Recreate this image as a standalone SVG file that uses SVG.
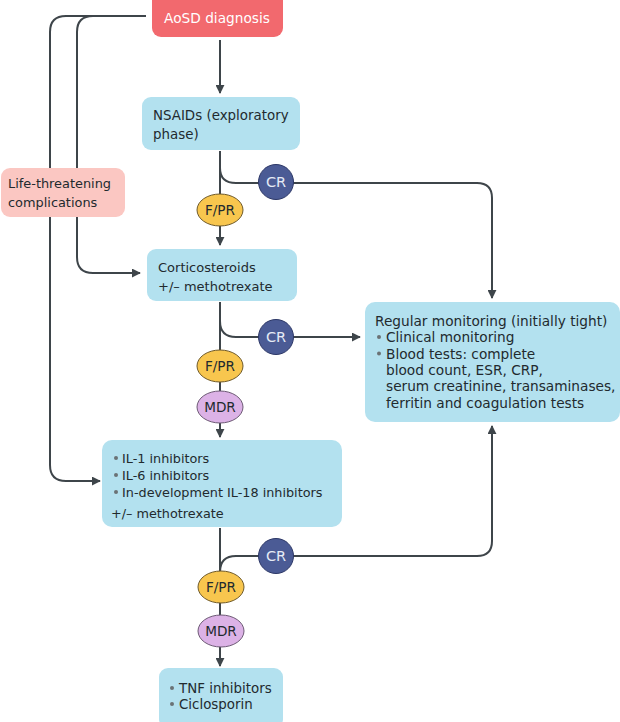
<svg xmlns="http://www.w3.org/2000/svg" width="620" height="722" viewBox="0 0 620 722">
<defs>
<marker id="ah" viewBox="0 0 10 10" refX="9" refY="5" markerWidth="9" markerHeight="9" markerUnits="userSpaceOnUse" orient="auto">
<path d="M0,0 L10,5 L0,10 z" fill="#3e454a"/>
</marker>
<style>
text{font-family:"DejaVu Sans","Noto Sans",sans-serif;fill:#222a2e}
.box{fill:#b3e1ef}
.t{font-size:13.4px}
.w{font-size:13.7px;fill:#ffffff;text-anchor:middle}
.m{font-size:13.7px}
.il{font-size:12.8px}
.ln{fill:none;stroke:#3e454a;stroke-width:2}
.cr{fill:#4b5b95;stroke:#2c3766;stroke-width:1}
.fpr{fill:#f8c64e;stroke:#6f5a2a;stroke-width:1}
.mdr{fill:#dcb2e6;stroke:#6d5a75;stroke-width:1}
.lab{font-size:13.6px;text-anchor:middle}
.crt{font-size:14.5px;fill:#e6ebf5;text-anchor:middle}
.dot{fill:#6b7275}
</style>
</defs>
<g id="connectors">
<path class="ln" d="M146,16 H66 Q50,16 50,32 V465 Q50,481 66,481 H100" marker-end="url(#ah)"/>
<path class="ln" d="M146,16 H93 Q77,16 77,32 V257 Q77,273 93,273 H140" marker-end="url(#ah)"/>
<path class="ln" d="M220,40 V93" marker-end="url(#ah)"/>
<path class="ln" d="M220,151 V245" marker-end="url(#ah)"/>
<path class="ln" d="M220,168 Q220,183 236,183 H477 Q492,183 492,198 V298" marker-end="url(#ah)"/>
<path class="ln" d="M220,302 V437" marker-end="url(#ah)"/>
<path class="ln" d="M220,321 Q220,337 236,337 H360" marker-end="url(#ah)"/>
<path class="ln" d="M220,528 V666" marker-end="url(#ah)"/>
<path class="ln" d="M220,572 Q220,556 236,556 H477 Q492,556 492,541 V426" marker-end="url(#ah)"/>
</g>
<g id="aosd">
<rect x="152" y="-8" width="131" height="45" rx="9" fill="#f2696e"/>
<text class="w" x="217" y="23">AoSD diagnosis</text>
</g>
<g id="life">
<rect x="1" y="168" width="124" height="49" rx="9" fill="#fbc7c2"/>
<text style="font-size:12.9px" x="8" y="188">Life-threatening</text>
<text style="font-size:12.9px" x="8" y="207">complications</text>
</g>
<g id="nsaids">
<rect class="box" x="142" y="97" width="158" height="53" rx="9"/>
<text class="t" x="153" y="120">NSAIDs (exploratory</text>
<text class="t" x="153" y="139">phase)</text>
</g>
<g id="cr1">
<circle class="cr" cx="276" cy="182" r="17.5"/>
<text class="crt" x="276" y="187">CR</text>
</g>
<g id="fpr1">
<ellipse class="fpr" cx="220" cy="210" rx="23" ry="16"/>
<text class="lab" x="220" y="215">F/PR</text>
</g>
<g id="cortico">
<rect class="box" x="147" y="249" width="150" height="52" rx="9"/>
<text style="font-size:13px" x="158" y="272">Corticosteroids</text>
<text style="font-size:13px" x="158" y="291">+/– methotrexate</text>
</g>
<g id="cr2">
<circle class="cr" cx="276" cy="337" r="17.5"/>
<text class="crt" x="276" y="342">CR</text>
</g>
<g id="fpr2">
<ellipse class="fpr" cx="220" cy="366" rx="23" ry="16"/>
<text class="lab" x="220" y="371">F/PR</text>
</g>
<g id="mdr1">
<ellipse class="mdr" cx="220" cy="407" rx="23" ry="16"/>
<text class="lab" x="220" y="412">MDR</text>
</g>
<g id="monitoring">
<rect class="box" x="365" y="302" width="255" height="120" rx="10"/>
<text class="m" x="375" y="326">Regular monitoring (initially tight)</text>
<circle class="dot" cx="379" cy="337" r="2"/>
<text class="m" x="386" y="342">Clinical monitoring</text>
<circle class="dot" cx="379" cy="353.5" r="2"/>
<text class="m" x="386" y="358.5">Blood tests: complete</text>
<text class="m" x="386" y="375">blood count, ESR, CRP,</text>
<text class="m" x="386" y="391">serum creatinine, transaminases,</text>
<text class="m" x="386" y="407.5">ferritin and coagulation tests</text>
</g>
<g id="il">
<rect class="box" x="102" y="440" width="240" height="87" rx="10"/>
<circle class="dot" cx="116" cy="458" r="2"/>
<text class="il" x="122" y="463">IL-1 inhibitors</text>
<circle class="dot" cx="116" cy="475" r="2"/>
<text class="il" x="122" y="480">IL-6 inhibitors</text>
<circle class="dot" cx="116" cy="492" r="2"/>
<text class="il" x="122" y="497">In-development IL-18 inhibitors</text>
<text class="il" x="111" y="518">+/– methotrexate</text>
</g>
<g id="cr3">
<circle class="cr" cx="276" cy="556" r="17.5"/>
<text class="crt" x="276" y="561">CR</text>
</g>
<g id="fpr3">
<ellipse class="fpr" cx="221" cy="587" rx="23" ry="16"/>
<text class="lab" x="221" y="592">F/PR</text>
</g>
<g id="mdr2">
<ellipse class="mdr" cx="221" cy="631" rx="23" ry="16"/>
<text class="lab" x="221" y="636">MDR</text>
</g>
<g id="tnf">
<rect class="box" x="159" y="668" width="124" height="60" rx="9"/>
<circle class="dot" cx="172" cy="688" r="2"/>
<text class="t" x="179" y="693">TNF inhibitors</text>
<circle class="dot" cx="172" cy="704" r="2"/>
<text class="t" x="179" y="709">Ciclosporin</text>
</g>
</svg>
